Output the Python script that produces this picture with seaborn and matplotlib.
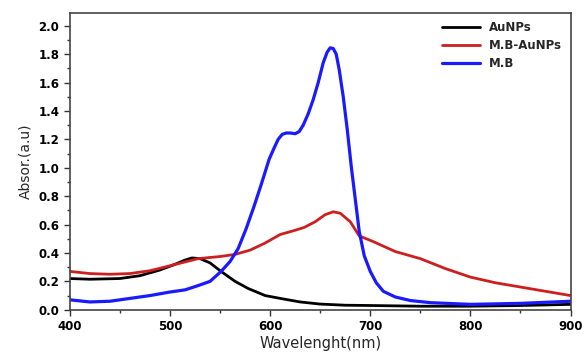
import numpy as np
import pandas as pd
import matplotlib
matplotlib.use('Agg')
import matplotlib.pyplot as plt
import seaborn as sns
from matplotlib.ticker import MultipleLocator

# values
aunps_wl = [400, 420, 450, 470, 490, 505, 515, 522, 530, 540, 551, 565, 578, 595,
            610, 630, 650, 675, 700, 750, 800, 850, 900]
aunps_abs = [0.22, 0.215, 0.22, 0.24, 0.28, 0.32, 0.35, 0.365, 0.36, 0.33, 0.27, 0.2,
             0.15, 0.1, 0.08, 0.055, 0.04, 0.032, 0.03, 0.025, 0.025, 0.03, 0.038]

mb_aunps_wl = [400, 420, 440, 460, 480, 500, 528, 550, 565, 580, 595, 610, 625, 634,
               645, 655, 663, 670, 680, 689, 703, 725, 750, 775, 800, 825, 850, 875, 900]
mb_aunps_abs = [0.27, 0.255, 0.25, 0.255, 0.275, 0.31, 0.36, 0.375, 0.39, 0.42, 0.47,
                0.53, 0.56, 0.58, 0.62, 0.67, 0.69, 0.68, 0.62, 0.52, 0.48, 0.41, 0.36,
                0.29, 0.23, 0.19, 0.16, 0.13, 0.1]

mb_wl = [400, 420, 440, 460, 480, 500, 515, 528, 540, 551, 560, 568, 576, 584, 591,
         599, 604, 608, 612, 616, 620, 625, 629, 633, 638, 643, 648, 653, 657, 660,
         663, 666, 669, 673, 677, 681, 685, 689, 694, 700, 706, 713, 725, 740, 760,
         800, 850, 900]
mb_abs = [0.07, 0.055, 0.06, 0.08, 0.1, 0.125, 0.14, 0.17, 0.2, 0.27, 0.34, 0.43,
          0.57, 0.73, 0.88, 1.06, 1.14, 1.2, 1.235, 1.245, 1.245, 1.24, 1.255, 1.3,
          1.38, 1.48, 1.6, 1.74, 1.815, 1.845, 1.84, 1.8, 1.69, 1.5, 1.27, 1.01, 0.78,
          0.55, 0.38, 0.27, 0.19, 0.13, 0.09, 0.065, 0.05, 0.038, 0.045, 0.06]

series = [('AuNPs', aunps_wl, aunps_abs, 'black', 2.0),
          ('M.B-AuNPs', mb_aunps_wl, mb_aunps_abs, '#cc1f1f', 2.0),
          ('M.B', mb_wl, mb_abs, '#1a1aff', 2.3)]

sns.set_style('white')
plt.rcParams['font.family'] = ['DejaVu Sans']

fig = plt.figure(figsize=(5.87, 3.52), dpi=100)
ax = fig.add_axes([0.119, 0.12, 0.853, 0.843])

for name, wl, ab, col, lw in series:
    df = pd.DataFrame({'wl': wl, 'abs': ab})
    sns.lineplot(data=df, x='wl', y='abs', ax=ax, color=col, linewidth=lw, label=name)

ax.set_xlim(400, 900)
ax.set_ylim(0, 2.09)
ax.xaxis.set_major_locator(MultipleLocator(100))
ax.xaxis.set_minor_locator(MultipleLocator(50))
ax.yaxis.set_major_locator(MultipleLocator(0.2))
ax.yaxis.set_minor_locator(MultipleLocator(0.1))
ax.yaxis.set_major_formatter(matplotlib.ticker.FormatStrFormatter('%.1f'))
ax.tick_params(axis='both', which='major', direction='out', length=4, width=1,
               labelsize=8.5, bottom=True, left=True, colors='#333333', labelcolor='black')
ax.tick_params(axis='both', which='minor', direction='out', length=2.5, width=1,
               bottom=True, left=True, colors='#333333')
for lab in ax.get_xticklabels() + ax.get_yticklabels():
    lab.set_fontweight('bold')

for sp in ax.spines.values():
    sp.set_color('#444444')
    sp.set_linewidth(1.2)

ax.set_xlabel('Wavelenght(nm)', fontsize=10.5, labelpad=2)
ax.set_ylabel('Absor.(a.u)', fontsize=10, labelpad=4)

leg = ax.legend(loc='upper right', frameon=False, fontsize=8.5, handlelength=3.2,
                borderaxespad=0.3, labelspacing=0.4)
for t in leg.get_texts():
    t.set_fontweight('bold')

fig.savefig('out.png', dpi=100)
